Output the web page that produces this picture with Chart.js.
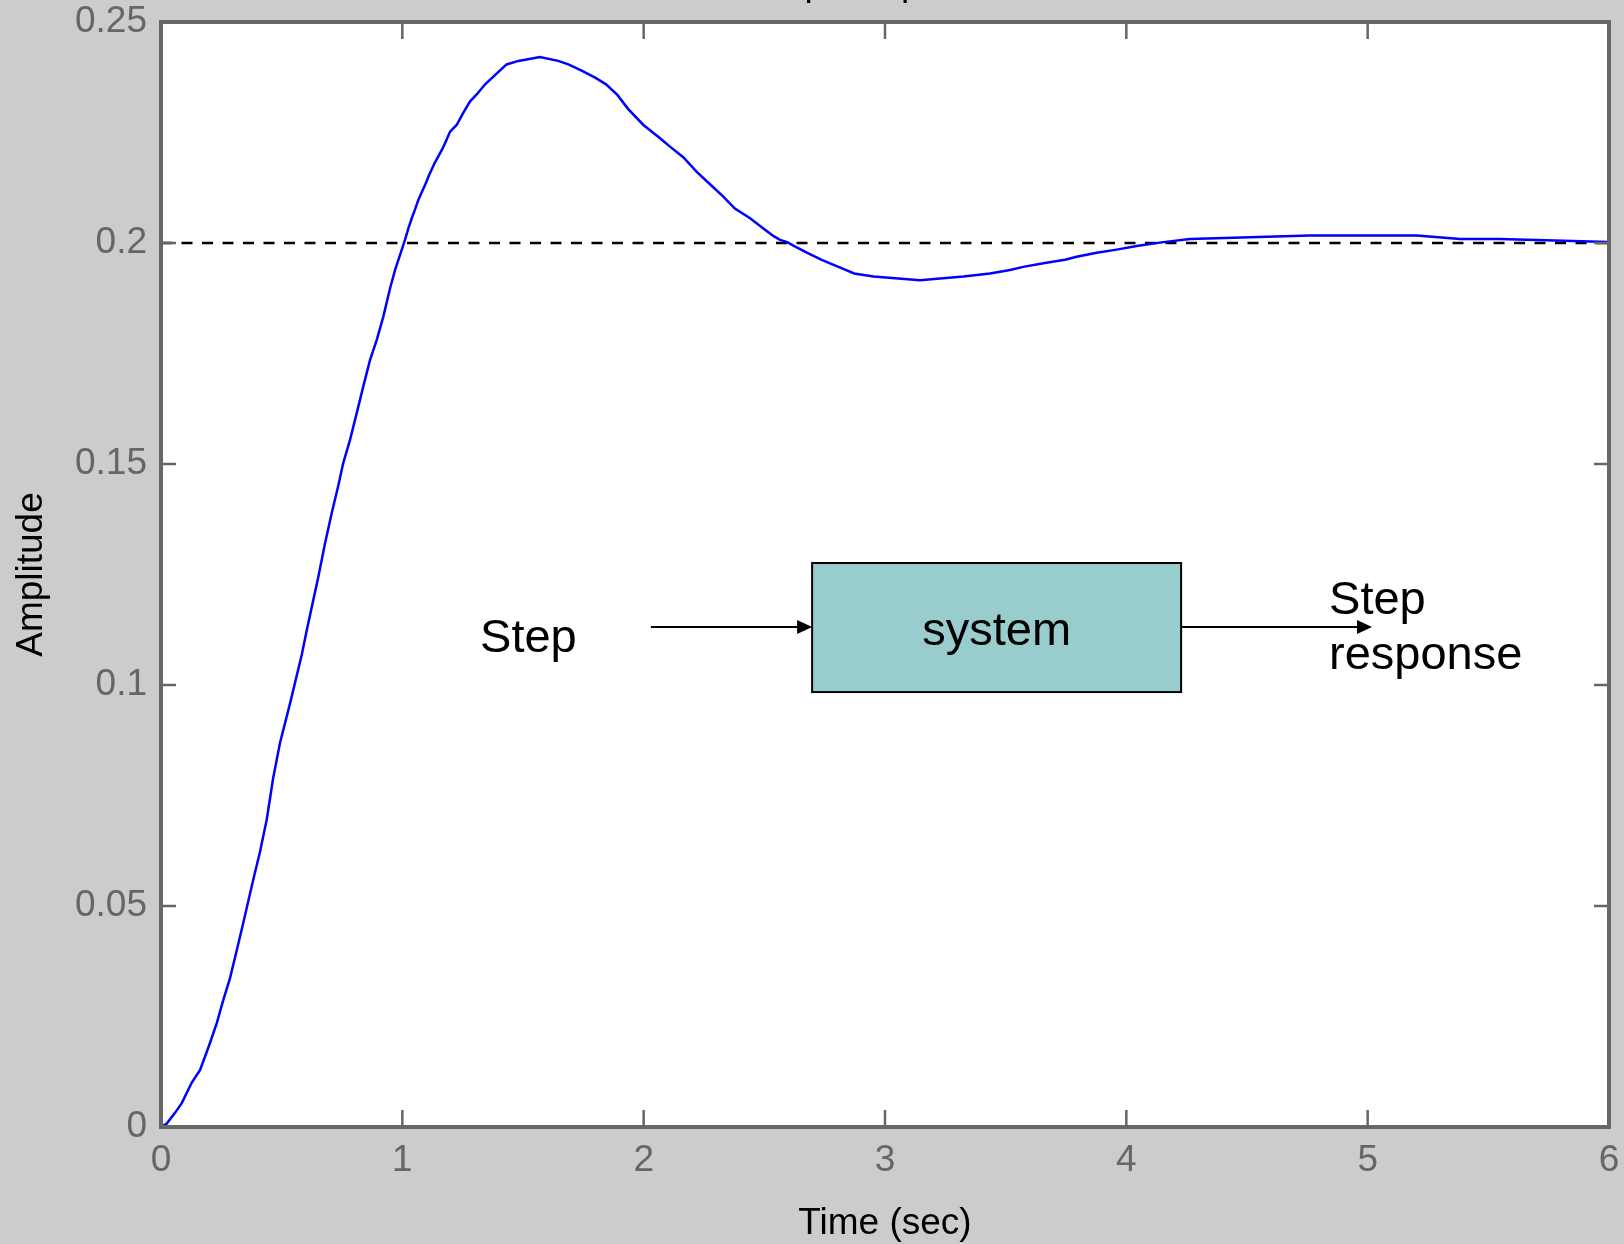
<!DOCTYPE html>
<html>
<head>
<meta charset="utf-8">
<title>Step Response</title>
<script src="https://cdn.jsdelivr.net/npm/chart.js@4.4.0/dist/chart.umd.min.js"></script>
<style>
  html, body { margin: 0; padding: 0; background: #cccccc; }
  canvas { display: block; }
</style>
</head>
<body>
<canvas id="stepChart" width="1624" height="1244"></canvas>
<script>
// values (time in sec, amplitude)
const time = [
  0, 0.024, 0.058, 0.086, 0.127, 0.162, 0.203, 0.231, 0.258, 0.286,
  0.314, 0.341, 0.382, 0.410, 0.438, 0.465, 0.493, 0.535, 0.583, 0.604,
  0.631, 0.652, 0.680, 0.707, 0.735, 0.755, 0.783, 0.811, 0.838, 0.866,
  0.894, 0.921, 0.949, 0.970, 0.997, 1.011, 1.025, 1.039, 1.052, 1.066,
  1.080, 1.094, 1.111, 1.135, 1.152, 1.167, 1.181, 1.198, 1.225, 1.250,
  1.280, 1.308, 1.343, 1.384, 1.432, 1.481, 1.570, 1.646, 1.688, 1.743,
  1.799, 1.844, 1.891, 1.936, 1.999, 2.068, 2.109, 2.164, 2.220, 2.275,
  2.330, 2.378, 2.441, 2.496, 2.537, 2.565, 2.595, 2.624, 2.676, 2.738,
  2.772, 2.837, 2.872, 2.952, 3.145, 3.325, 3.435, 3.518, 3.573, 3.656,
  3.746, 3.794, 3.877, 3.960, 4.043, 4.153, 4.264, 4.761, 5.203, 5.383,
  5.548, 6.0
];
const amplitude = [
  0, 0.0008, 0.0032, 0.0054, 0.0100, 0.0129, 0.0190, 0.0235, 0.0287, 0.0337,
  0.0400, 0.0462, 0.0559, 0.0622, 0.0695, 0.0790, 0.0869, 0.0959, 0.1068, 0.1124,
  0.1192, 0.1245, 0.1321, 0.1388, 0.1452, 0.1502, 0.1554, 0.1615, 0.1675, 0.1735,
  0.1781, 0.1833, 0.1897, 0.1939, 0.1984, 0.2007, 0.2033, 0.2056, 0.2075, 0.2097,
  0.2114, 0.2131, 0.2154, 0.2182, 0.2199, 0.2214, 0.2231, 0.2252, 0.2267, 0.2292,
  0.2320, 0.2336, 0.2359, 0.2380, 0.2404, 0.2412, 0.2421, 0.2412, 0.2404, 0.2390,
  0.2374, 0.2359, 0.2335, 0.2303, 0.2267, 0.2237, 0.2218, 0.2194, 0.2161, 0.2133,
  0.2105, 0.2078, 0.2056, 0.2033, 0.2016, 0.2007, 0.2002, 0.1993, 0.1978, 0.1962,
  0.1954, 0.1939, 0.1931, 0.1924, 0.1916, 0.1924, 0.1931, 0.1939, 0.1946, 0.1954,
  0.1962, 0.1969, 0.1978, 0.1985, 0.1993, 0.2002, 0.2009, 0.2017, 0.2017, 0.2009,
  0.2009, 0.2002
];
const finalValue = 0.2;
const finalRange = [0, 6];

const xTicks = [0, 1, 2, 3, 4, 5, 6];
const yTicks = [0, 0.05, 0.1, 0.15, 0.2, 0.25];
const yTickLabels = ['0', '0.05', '0.1', '0.15', '0.2', '0.25'];

const FONT = '"Liberation Sans", Arial, sans-serif';
const GREY = '#666666';

// grey figure background, white axes
const backdrop = {
  id: 'backdrop',
  beforeDraw(chart) {
    const ctx = chart.ctx, a = chart.chartArea;
    ctx.save();
    ctx.fillStyle = '#cccccc';
    ctx.fillRect(0, 0, chart.width, chart.height);
    ctx.fillStyle = '#ffffff';
    ctx.fillRect(a.left, a.top, a.right - a.left, a.bottom - a.top);
    ctx.restore();
  }
};

// box, inward ticks on all four sides, title peeking at the top edge
const axesBox = {
  id: 'axesBox',
  afterDraw(chart) {
    const ctx = chart.ctx, a = chart.chartArea;
    const sx = chart.scales.x, sy = chart.scales.y;
    ctx.save();
    ctx.strokeStyle = GREY;
    ctx.lineWidth = 2.5;
    ctx.beginPath();
    xTicks.forEach(function (v) {
      const p = sx.getPixelForValue(v);
      ctx.moveTo(p, a.bottom); ctx.lineTo(p, a.bottom - 17);
      ctx.moveTo(p, a.top); ctx.lineTo(p, a.top + 17);
    });
    yTicks.forEach(function (v) {
      const p = sy.getPixelForValue(v);
      ctx.moveTo(a.left, p); ctx.lineTo(a.left + 15, p);
      ctx.moveTo(a.right, p); ctx.lineTo(a.right - 15, p);
    });
    ctx.stroke();
    ctx.lineWidth = 4;
    ctx.strokeRect(a.left, a.top, a.right - a.left, a.bottom - a.top);

    ctx.fillStyle = '#000';
    ctx.font = '37px ' + FONT;
    ctx.textAlign = 'center';
    ctx.textBaseline = 'alphabetic';
    ctx.fillText('Step Response', sx.getPixelForValue(2.96), -5);
    ctx.restore();
  }
};

// the block diagram drawn inside the axes, placed in data units
const diagram = {
  id: 'diagram',
  afterDatasetsDraw(chart) {
    const ctx = chart.ctx;
    const px = v => chart.scales.x.getPixelForValue(v);
    const py = v => chart.scales.y.getPixelForValue(v);

    const bx0 = px(2.698), bx1 = px(4.227), by0 = py(0.1276), by1 = py(0.0984);
    const ay = py(0.1131);

    ctx.save();
    ctx.fillStyle = '#99cccc';
    ctx.fillRect(bx0, by0, bx1 - bx0, by1 - by0);
    ctx.strokeStyle = '#000';
    ctx.lineWidth = 2;
    ctx.strokeRect(bx0, by0, bx1 - bx0, by1 - by0);

    function arrow(x0, x1) {
      ctx.beginPath();
      ctx.moveTo(x0, ay); ctx.lineTo(x1 - 14, ay);
      ctx.stroke();
      ctx.beginPath();
      ctx.moveTo(x1, ay); ctx.lineTo(x1 - 15, ay - 7); ctx.lineTo(x1 - 15, ay + 7);
      ctx.closePath();
      ctx.fillStyle = '#000';
      ctx.fill();
    }
    arrow(px(2.030), bx0);
    arrow(bx1, px(5.018));

    ctx.fillStyle = '#000';
    ctx.font = '47px ' + FONT;
    ctx.textBaseline = 'alphabetic';
    ctx.textAlign = 'center';
    ctx.fillText('system', (bx0 + bx1) / 2, py(0.109));
    ctx.textAlign = 'left';
    ctx.fillText('Step', px(1.322), py(0.1075));
    ctx.fillText('Step', px(4.840), py(0.1161));
    ctx.fillText('response', px(4.840), py(0.1036));
    ctx.restore();
  }
};

// keep the axes box where the layout padding puts it
function noOverhang(s) {
  s.paddingTop = 0; s.paddingBottom = 0;
  s.paddingLeft = 0; s.paddingRight = 0;
}

const curve = time.map((t, i) => ({ x: t, y: amplitude[i] }));
const finalLine = finalRange.map(t => ({ x: t, y: finalValue }));

new Chart(document.getElementById('stepChart'), {
  type: 'line',
  data: {
    datasets: [
      {
        data: curve,
        borderColor: '#0000ff',
        borderWidth: 2.5,
        pointRadius: 0,
        tension: 0,
        order: 1
      },
      {
        data: finalLine,
        borderColor: '#000000',
        borderWidth: 2.5,
        borderDash: [11, 9.5],
        pointRadius: 0,
        order: 2
      }
    ]
  },
  options: {
    responsive: false,
    animation: false,
    devicePixelRatio: 1,
    layout: { padding: { top: 22, right: 15, left: 0, bottom: 0 } },
    plugins: {
      legend: { display: false },
      tooltip: { enabled: false }
    },
    scales: {
      x: {
        type: 'linear',
        min: 0,
        max: 6,
        afterBuildTicks: s => { s.ticks = xTicks.map(v => ({ value: v })); },
        afterFit: s => { s.height = 117; noOverhang(s); },
        grid: { display: false, drawTicks: false },
        border: { display: false },
        ticks: {
          color: GREY,
          font: { family: FONT, size: 37 },
          padding: 12,
          maxRotation: 0,
          callback: v => String(v)
        },
        title: {
          display: true,
          text: 'Time (sec)',
          color: '#000',
          font: { family: FONT, size: 37 },
          padding: { top: 0, bottom: -2 }
        }
      },
      y: {
        type: 'linear',
        min: 0,
        max: 0.25,
        afterBuildTicks: s => { s.ticks = yTicks.map(v => ({ value: v })); },
        afterFit: s => { s.width = 161; noOverhang(s); },
        grid: { display: false, drawTicks: false },
        border: { display: false },
        ticks: {
          color: GREY,
          font: { family: FONT, size: 37 },
          padding: 14,
          callback: (v, i) => yTickLabels[i]
        },
        title: {
          display: true,
          text: 'Amplitude',
          color: '#000',
          font: { family: FONT, size: 37 },
          padding: { top: 10, bottom: 0 }
        }
      }
    }
  },
  plugins: [backdrop, diagram, axesBox]
});
</script>
</body>
</html>
